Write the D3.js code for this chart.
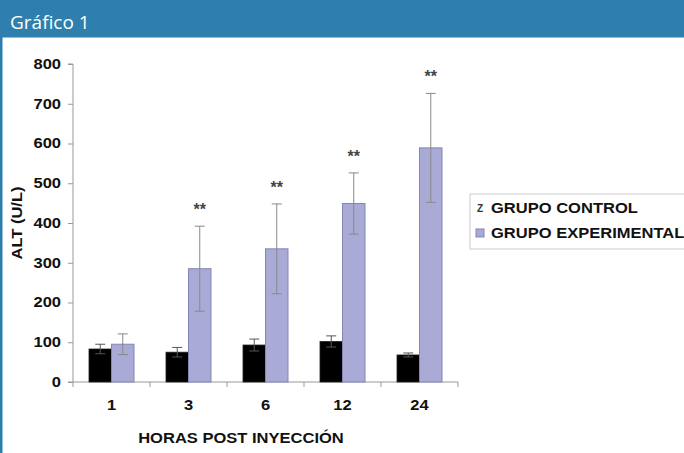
<!DOCTYPE html>
<html lang="es">
<head>
    <meta charset="UTF-8">
    <title>Gráfico 1</title>
    <script src="https://cdn.jsdelivr.net/npm/d3@7"></script>
    <style>
        body { margin: 0; background: #fff; }
    </style>
</head>
<body>
<script>
    var w = 684, h = 453;

    // data
    var hours = ["1", "3", "6", "12", "24"];
    var control = [83, 75, 93, 102, 68];
    var controlErr = [12, 12, 15, 14, 5];
    var experimental = [95, 285, 335, 449, 589];
    var experimentalErr = [26, 107, 113, 77, 137];
    var significant = [false, true, true, true, true];
    var yTicks = [0, 100, 200, 300, 400, 500, 600, 700, 800];
    var seriesNames = ["GRUPO CONTROL", "GRUPO EXPERIMENTAL"];

    var svg = d3.select("body").append("svg")
        .attr("width", w)
        .attr("height", h);

    // header band
    svg.append("rect").attr("x", 0).attr("y", 0).attr("width", w).attr("height", 37).attr("fill", "#2e7fae");
    svg.append("rect").attr("x", 0).attr("y", 37).attr("width", w).attr("height", 1).attr("fill", "#8fbfd8");
    svg.append("rect").attr("x", 0).attr("y", 0).attr("width", 2.5).attr("height", h).attr("fill", "#2e7fae");
    svg.append("text")
        .attr("x", 10).attr("y", 29)
        .attr("fill", "#fff")
        .attr("font-family", "Open Sans, sans-serif")
        .attr("font-size", "19px")
        .text("Gráfico 1");

    var plotLeft = 73, plotRight = 458, plotTop = 64, plotBottom = 382;

    var x = d3.scaleBand().domain(hours).range([plotLeft, plotRight]);
    var y = d3.scaleLinear().domain([0, 800]).range([plotBottom, plotTop]);

    var barW = 22.5;
    var font = "Liberation Sans, Arial, sans-serif";
    var stretchK = 1.18;   // the original lettering is a bit wide

    function stretch(sel) {
        sel.each(function () {
            var len = this.getComputedTextLength();
            d3.select(this)
                .attr("textLength", len * stretchK)
                .attr("lengthAdjust", "spacingAndGlyphs");
        });
    }

    // axes
    var yAxis = svg.append("g")
        .attr("transform", "translate(" + plotLeft + ",0)")
        .call(d3.axisLeft(y).tickValues(yTicks).tickSize(5).tickPadding(7));
    var xAxis = svg.append("g")
        .attr("transform", "translate(0," + plotBottom + ")")
        .call(d3.axisBottom(x).tickSize(0).tickPadding(18));
    // x ticks sit between categories
    xAxis.selectAll(".sep")
        .data(hours.concat(["end"])).enter()
        .append("line")
        .attr("class", "sep")
        .attr("x1", function (d, i) { return plotLeft + i * x.bandwidth(); })
        .attr("x2", function (d, i) { return plotLeft + i * x.bandwidth(); })
        .attr("y1", 0).attr("y2", 5)
        .attr("stroke", "#999");

    [yAxis, xAxis].forEach(function (g) {
        g.select(".domain").attr("stroke", "#999");
        g.selectAll(".tick line").attr("stroke", "#999");
        g.selectAll("text")
            .attr("font-family", font)
            .attr("font-size", "14px")
            .attr("font-weight", "bold")
            .attr("fill", "#111")
            .call(stretch);
    });
    yAxis.select(".domain").attr("d", "M-5," + plotTop + "H0V" + plotBottom + "H-5");
    xAxis.select(".domain").attr("d", "M" + plotLeft + ",0H" + plotRight);

    // bars
    var groups = svg.selectAll(".grp")
        .data(hours).enter()
        .append("g")
        .attr("class", "grp");

    groups.append("rect")
        .attr("x", function (d) { return x(d) + x.bandwidth() / 2 - barW; })
        .attr("y", function (d, i) { return y(control[i]); })
        .attr("width", barW)
        .attr("height", function (d, i) { return plotBottom - y(control[i]); })
        .attr("fill", "#000")
        .attr("stroke", "#222")
        .attr("stroke-width", 0.8);

    groups.append("rect")
        .attr("x", function (d) { return x(d) + x.bandwidth() / 2; })
        .attr("y", function (d, i) { return y(experimental[i]); })
        .attr("width", barW)
        .attr("height", function (d, i) { return plotBottom - y(experimental[i]); })
        .attr("fill", "#aaaad6")
        .attr("stroke", "#8585b5")
        .attr("stroke-width", 1);

    // error bars
    function errBar(sel, vals, errs, offset, color) {
        sel.each(function (d, i) {
            var g = d3.select(this);
            var cx = x(d) + x.bandwidth() / 2 + offset;
            var hi = y(vals[i] + errs[i]), lo = y(vals[i] - errs[i]);
            g.append("line").attr("x1", cx).attr("x2", cx).attr("y1", hi).attr("y2", lo)
                .attr("stroke", color).attr("stroke-width", 1);
            g.append("line").attr("x1", cx - 5).attr("x2", cx + 5).attr("y1", hi).attr("y2", hi)
                .attr("stroke", color).attr("stroke-width", 1);
            g.append("line").attr("x1", cx - 5).attr("x2", cx + 5).attr("y1", lo).attr("y2", lo)
                .attr("stroke", color).attr("stroke-width", 1);
        });
    }
    errBar(groups, control, controlErr, -barW / 2, "#555");
    errBar(groups, experimental, experimentalErr, barW / 2, "#888");

    // significance marks
    groups.filter(function (d, i) { return significant[i]; })
        .append("text")
        .attr("x", function (d) { return x(d) + x.bandwidth() / 2 + barW / 2; })
        .attr("y", function (d) {
            var i = hours.indexOf(d);
            return y(experimental[i] + experimentalErr[i]) - 11;
        })
        .attr("text-anchor", "middle")
        .attr("font-family", font)
        .attr("font-size", "16px")
        .attr("font-weight", "bold")
        .attr("fill", "#444")
        .text("**");

    // axis titles
    svg.append("text")
        .attr("transform", "translate(22,223) rotate(-90)")
        .attr("text-anchor", "middle")
        .attr("font-family", font)
        .attr("font-size", "14px")
        .attr("font-weight", "bold")
        .attr("fill", "#111")
        .text("ALT (U/L)")
        .call(stretch);
    svg.append("text")
        .attr("x", 241).attr("y", 443)
        .attr("text-anchor", "middle")
        .attr("font-family", font)
        .attr("font-size", "14px")
        .attr("font-weight", "bold")
        .attr("fill", "#111")
        .text("HORAS POST INYECCIÓN")
        .call(stretch);

    // legend
    var legend = svg.append("g").attr("transform", "translate(470,194)");
    legend.append("rect")
        .attr("x", 0).attr("y", 0).attr("width", 230).attr("height", 55)
        .attr("fill", "#fff").attr("stroke", "#ccc");
    var items = legend.selectAll(".item")
        .data(seriesNames).enter()
        .append("g")
        .attr("transform", function (d, i) { return "translate(0," + (14 + i * 25) + ")"; });
    items.append("rect")
        .attr("x", 6).attr("y", -4).attr("width", 8).attr("height", 8)
        .attr("fill", function (d, i) { return i === 0 ? "#fff" : "#aaaad6"; })
        .attr("stroke", function (d, i) { return i === 0 ? "none" : "#8585b5"; });
    items.filter(function (d, i) { return i === 0; })
        .append("text")
        .attr("x", 10).attr("y", 4)
        .attr("text-anchor", "middle")
        .attr("font-family", font)
        .attr("font-size", "10px")
        .attr("font-weight", "bold")
        .attr("fill", "#333")
        .text("Z");
    items.append("text")
        .attr("x", 21).attr("y", 5)
        .attr("font-family", font)
        .attr("font-size", "14px")
        .attr("font-weight", "bold")
        .attr("fill", "#111")
        .text(function (d) { return d; })
        .call(stretch);
</script>
</body>
</html>
